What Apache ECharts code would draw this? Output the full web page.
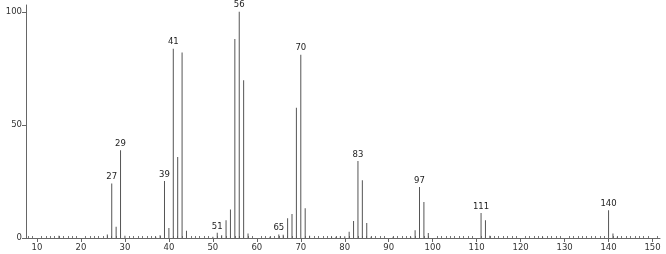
<!DOCTYPE html>
<html>
<head>
<meta charset="utf-8">
<script src="https://cdn.jsdelivr.net/npm/echarts@6/dist/echarts.min.js"></script>
<style>html,body{margin:0;padding:0;background:#fff}#c{width:666px;height:254px}</style>
</head>
<body>
<div id="c"></div>
<script>
const mz = [15, 26, 27, 28, 29, 30, 37, 38, 39, 40, 41, 42, 43, 44, 50, 51, 52, 53, 54, 55, 56, 57, 58, 63, 65, 66, 67, 68, 69, 70, 71, 72, 77, 78, 79, 80, 81, 82, 83, 84, 85, 86, 91, 95, 96, 97, 98, 99, 111, 112, 113, 125, 140, 141, 142];
const intensity = [1, 1.5, 24.1, 5, 38.8, 1, 0.6, 1.2, 25.2, 4.4, 83.7, 35.8, 82, 3.2, 0.6, 2.3, 1.2, 7.9, 12.6, 88, 100, 69.7, 2, 0.6, 1.6, 1.4, 8.7, 10.6, 57.6, 81, 13.1, 1, 0.5, 0.6, 0.8, 0.8, 2.8, 7.5, 34, 25.5, 6.6, 0.6, 0.6, 0.6, 3.4, 22.5, 15.9, 2.2, 11, 7.9, 1, 0.6, 12.3, 2, 0.6];
const labeledPeaks = [27, 29, 39, 41, 51, 56, 65, 70, 83, 97, 111, 140];
const xTickLabels = [10, 20, 30, 40, 50, 60, 70, 80, 90, 100, 110, 120, 130, 140, 150];
const xMinorTicks = [];
for (let v = 8; v <= 151; v++) if (v % 10 !== 0) xMinorTicks.push(v);
const yTickLabels = [0, 50, 100];

const data = mz.map((m, i) => ({
  value: [m, intensity[i]],
  label: { show: labeledPeaks.includes(m) }
}));

const chart = echarts.init(document.getElementById('c'), null, { renderer: 'canvas' });
const fontFamily = 'DejaVu Sans';
chart.setOption({
  animation: false,
  grid: { left: 26, right: 6, top: 5, bottom: 16 },
  xAxis: [{
    type: 'value', min: 7.5, max: 151.7,
    axisLine: { show: true, lineStyle: { color: '#666', width: 1 } },
    axisTick: { show: true, customValues: xTickLabels, length: 4, lineStyle: { color: '#666' } },
    axisLabel: { customValues: xTickLabels, fontSize: 8.5, color: '#333', fontFamily, margin: 5 },
    splitLine: { show: false }
  }, {
    type: 'value', min: 7.5, max: 151.7, position: 'bottom',
    axisLine: { show: false },
    axisTick: { show: true, inside: true, customValues: xMinorTicks, length: 2, lineStyle: { color: '#777' } },
    axisLabel: { show: false },
    splitLine: { show: false }
  }],
  yAxis: {
    type: 'value', min: 0, max: 103,
    axisLine: { show: true, lineStyle: { color: '#666', width: 1 } },
    axisTick: { show: true, customValues: yTickLabels, length: 4, lineStyle: { color: '#666' } },
    minorTick: { show: false },
    axisLabel: { customValues: yTickLabels, fontSize: 8.5, color: '#333', fontFamily, margin: 4 },
    splitLine: { show: false }
  },
  series: [{
    type: 'bar',
    xAxisIndex: 0,
    barWidth: 1,
    itemStyle: { color: '#555' },
    label: {
      position: 'top', distance: 2, fontSize: 8.5, color: '#222', fontFamily,
      formatter: p => String(p.value[0])
    },
    data: data
  }]
});
</script>
</body>
</html>
